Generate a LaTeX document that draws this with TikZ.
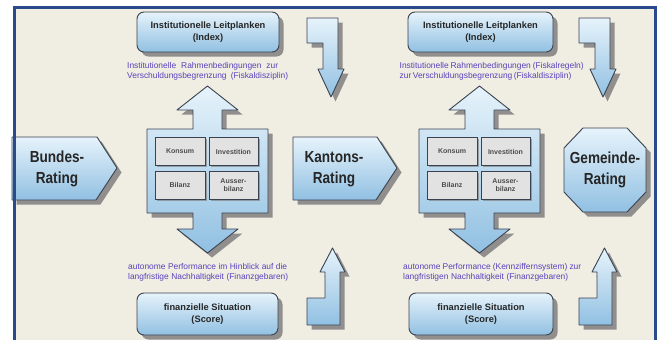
\documentclass[tikz,border=0pt]{standalone}
\usepackage{fontspec}
\setmainfont{Liberation Sans}
\newfontfamily\narrowfont[FakeStretch=0.85]{Liberation Sans}
\usetikzlibrary{shadows}
\definecolor{bgc}{RGB}{240,237,227}
\definecolor{framec}{RGB}{42,74,140}
\definecolor{blA}{RGB}{230,243,251}
\definecolor{blB}{RGB}{145,192,226}
\definecolor{edgec}{RGB}{58,66,80}
\definecolor{greyfill}{RGB}{226,226,226}
\definecolor{txtblue}{RGB}{88,66,186}
\definecolor{shadowc}{RGB}{120,120,120}
\begin{document}
\begin{tikzpicture}[x=1pt,y=-1pt,
  shad/.style={drop shadow={shadow xshift=4.5pt,shadow yshift=-4.5pt,fill=shadowc,opacity=0.8}},
  bluefill/.style={top color=blA,bottom color=blB,draw=edgec,line width=0.9pt,line join=round},
  infobox/.style={bluefill,shad,rounded corners=7pt,minimum height=40pt,inner sep=0pt,
     align=center,font=\bfseries\fontsize{9.3}{12.5}\selectfont,text=black!85},
  cellbox/.style={draw=edgec,line width=0.8pt,fill=greyfill,minimum width=49pt,minimum height=28pt,
     inner sep=0pt,align=center,font=\bfseries\fontsize{7}{8.5}\selectfont,text=black!70,
     drop shadow={shadow xshift=1.5pt,shadow yshift=-1.5pt,fill=shadowc,opacity=0.6}},
  bigtext/.style={align=center,font=\narrowfont\bfseries\fontsize{16}{21}\selectfont,text=black!85},
  note/.style={align=left,inner sep=0pt,font=\fontsize{8.4}{10}\selectfont,text=txtblue}
]
\useasboundingbox (0,0) rectangle (662,340);
\fill[white] (0,0) rectangle (662,340);
\fill[bgc] (14,6) rectangle (656,341);

% bent arrows (top: pointing down, bottom: pointing up)
\foreach \dx in {0,272}{
  \begin{scope}[xshift=\dx pt]
    \path[bluefill,shad] (307,18) -- (338,18) -- (338,69) -- (344,69) -- (331,97) -- (318,69) -- (323,69) -- (323,43) -- (307,43) -- cycle;
    \path[bluefill,shad] (307,325) -- (340,325) -- (340,272) -- (345,272) -- (332.5,248) -- (320,272) -- (325,272) -- (325,298) -- (307,298) -- cycle;
  \end{scope}
}

% rating shapes
\path[bluefill,shad] (12,137) -- (97,137) -- (117,168) -- (96,200) -- (12,200) -- cycle;
\node[bigtext] (bund) at (57,169) {Bundes-\\Rating};
\path[bluefill,shad] (293,137) -- (377,137) -- (397,168) -- (376,200) -- (293,200) -- cycle;
\node[bigtext] (kant) at (334,169) {Kantons-\\Rating};
\path[bluefill,shad] (583,128) -- (627,128) -- (646,148) -- (646,192) -- (627,212) -- (583,212) -- (564,192) -- (564,148) -- cycle;
\node[bigtext] (gem) at (605,170) {Gemeinde-\\Rating};

% the two cross-shaped blocks
\foreach \dx/\nm in {0/l,272/r}{
  \begin{scope}[xshift=\dx pt]
    \path[bluefill,shad] (207.5,86) -- (238,110) -- (222,110) -- (222,129) -- (268,129) -- (268,213) -- (222,213) -- (222,229) -- (238,229) -- (207.5,253) -- (177,229) -- (193,229) -- (193,213) -- (147,213) -- (147,129) -- (193,129) -- (193,110) -- (177,110) -- cycle;
    \node[cellbox,minimum width=50pt] (kons\nm) at (180,151.5) {Konsum};
    \node[cellbox] (inv\nm) at (233.5,151.5) {Investition};
    \node[cellbox,minimum width=50pt] (bil\nm) at (180,185) {Bilanz};
    \node[cellbox] (aus\nm) at (233.5,185) {Ausser-\\bilanz};
  \end{scope}
}

% top and bottom boxes
\node[infobox,minimum width=142pt] (indexl) at (208,32) {Institutionelle Leitplanken\\(Index)};
\node[infobox,minimum width=145pt] (indexr) at (480.5,32) {Institutionelle Leitplanken\\(Index)};
\node[infobox,minimum width=141pt,minimum height=42pt] (scorel) at (207.5,314) {finanzielle Situation\\(Score)};
\node[infobox,minimum width=144pt,minimum height=42pt] (scorer) at (481,314) {finanzielle Situation\\(Score)};

% blue notes
\node[note,anchor=west] (notelt) at (127,71.5) {\makebox[151pt][s]{Institutionelle Rahmenbedingungen zur}\\\makebox[161pt][s]{Verschuldungsbegrenzung (Fiskaldisziplin)}};
\node[note,anchor=west] (notert) at (399.5,71.5) {\makebox[184pt][s]{Institutionelle Rahmenbedingungen (Fiskalregeln)}\\\makebox[169pt][s]{zur Verschuldungsbegrenzung (Fiskaldisziplin)}};
\node[note,anchor=west] (notelb) at (128,272) {\makebox[159pt][s]{autonome Performance im Hinblick auf die}\\\makebox[160pt][s]{langfristige Nachhaltigkeit (Finanzgebaren)}};
\node[note,anchor=west] (noterb) at (403,272) {\makebox[178pt][s]{autonome Performance (Kennziffernsystem) zur}\\\makebox[165pt][s]{langfristigen Nachhaltigkeit (Finanzgebaren)}};

% frame
\draw[framec,line width=3pt] (14.5,341) -- (14.5,7.5) -- (655.5,7.5) -- (655.5,341);
\end{tikzpicture}
\end{document}
